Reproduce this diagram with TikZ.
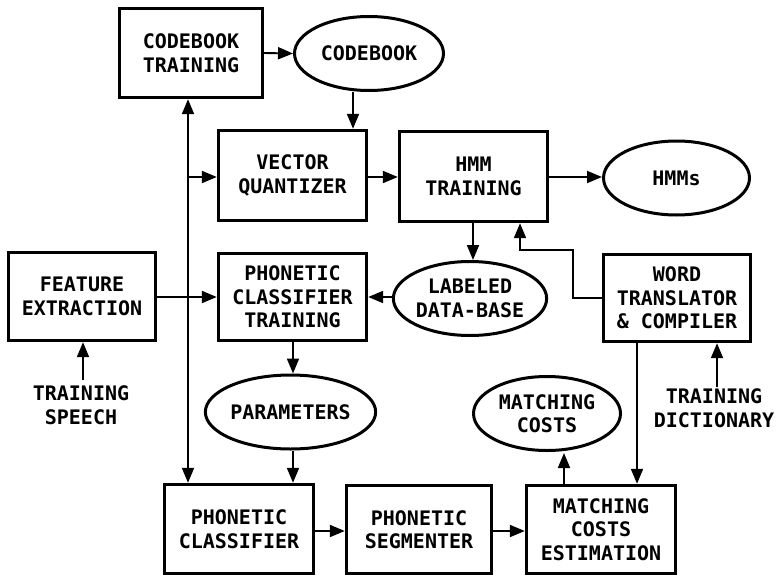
\documentclass[tikz,border=0pt]{standalone}
\usepackage{fontspec}
\newfontfamily\diafont{DejaVu Sans Mono}
\usetikzlibrary{arrows.meta,shapes.geometric}
\newcommand{\lbl}{\diafont\bfseries\fontsize{20}{23.5}\selectfont}
\tikzset{
  box/.style={draw, rectangle, line width=3.4pt, inner sep=0pt, align=center, font=\lbl},
  oval/.style={draw, ellipse, line width=3pt, inner sep=0pt, align=center, font=\lbl},
  plain/.style={inner sep=0pt, align=center, font=\lbl},
  conn/.style={line width=1.9pt, -{Triangle[length=15pt,width=12pt]}},
  both/.style={line width=1.9pt, {Triangle[length=15pt,width=12pt]}-{Triangle[length=15pt,width=12pt]}}
}
\begin{document}
\begin{tikzpicture}[x=1pt,y=-1pt]
\useasboundingbox[fill=white] (0,0) rectangle (778,578);
% boxes
\node[box, minimum width=143pt, minimum height=89pt] (ct) at (191,53) {CODEBOOK\\TRAINING};
\node[oval, minimum width=149pt, minimum height=74pt] (cb) at (369,53.5) {CODEBOOK};
\node[box, minimum width=148pt, minimum height=90pt] (vq) at (292.5,175.5) {VECTOR\\QUANTIZER};
\node[box, minimum width=148pt, minimum height=90pt] (hmmt) at (473.5,176.5) {HMM\\TRAINING};
\node[oval, minimum width=146pt, minimum height=74pt] (hmms) at (676.5,178) {HMMs};
\node[box, minimum width=147pt, minimum height=88pt] (fe) at (82,296.5) {FEATURE\\EXTRACTION};
\node[box, minimum width=148pt, minimum height=87pt] (pct) at (292.5,297) {PHONETIC\\CLASSIFIER\\TRAINING};
\node[oval, minimum width=147pt, minimum height=74pt] (ldb) at (470,298.5) {LABELED\\DATA-BASE};
\node[box, minimum width=147pt, minimum height=87pt] (wtc) at (677,298) {WORD\\TRANSLATOR\\\& COMPILER};
\node[oval, minimum width=148pt, minimum height=74pt] (par) at (290.5,412) {PARAMETERS};
\node[oval, minimum width=147pt, minimum height=74pt] (mc) at (547,413.5) {MATCHING\\COSTS};
\node[box, minimum width=149pt, minimum height=89pt] (pc) at (239,529) {PHONETIC\\CLASSIFIER};
\node[box, minimum width=145pt, minimum height=88pt] (ps) at (419,529.5) {PHONETIC\\SEGMENTER};
\node[box, minimum width=149pt, minimum height=88pt] (mce) at (601,529.5) {MATCHING\\COSTS\\ESTIMATION};
\node[plain] (ts) at (81,405) {TRAINING\\SPEECH};
\node[plain] (td) at (714,408) {TRAINING\\DICTIONARY};
% helper coordinates
\coordinate (xv) at (188,0);
\coordinate (xcb) at (353,0);
\coordinate (xl) at (473,0);
\coordinate (xp) at (293,0);
\coordinate (xm) at (564,0);
\coordinate (xw) at (637,0);
\coordinate (x520) at (520,0);
\coordinate (yr) at (0,177);
\coordinate (yf) at (0,297);
\coordinate (yb) at (0,531);
\coordinate (br) at (188,177);
\coordinate (k1) at (573,250);
\coordinate (tsTop) at (83,380);
\coordinate (tdTop) at (717,387);
% connectors
\draw[conn] (ct.east) -- (cb.west);
\draw[conn] (cb.south -| xcb) -- (vq.north -| xcb);
\draw[both] (ct.south -| xv) -- (pc.north -| xv);
\draw[conn] (br) -- (vq.west |- br);
\draw[conn] (vq.east |- yr) -- (hmmt.west |- yr);
\draw[conn] (hmmt.east |- yr) -- (hmms.west |- yr);
\draw[conn] (hmmt.south -| xl) -- (ldb.north -| xl);
\draw[conn] (fe.east |- yf) -- (pct.west |- yf);
\draw[conn] (ldb.west |- yf) -- (pct.east |- yf);
\draw[conn] (tsTop) -- (fe.south -| tsTop);
\draw[conn] (wtc.west) -| (k1) -| (hmmt.south -| x520);
\draw[conn] (pct.south -| xp) -- (par.north -| xp);
\draw[conn] (par.south -| xp) -- (pc.north -| xp);
\draw[conn] (pc.east |- yb) -- (ps.west |- yb);
\draw[conn] (ps.east |- yb) -- (mce.west |- yb);
\draw[conn] (mce.north -| xm) -- ([yshift=-1pt]mc.south -| xm);
\draw[conn] (wtc.south -| xw) -- (mce.north -| xw);
\draw[conn] (tdTop) -- (wtc.south -| tdTop);
\end{tikzpicture}
\end{document}
